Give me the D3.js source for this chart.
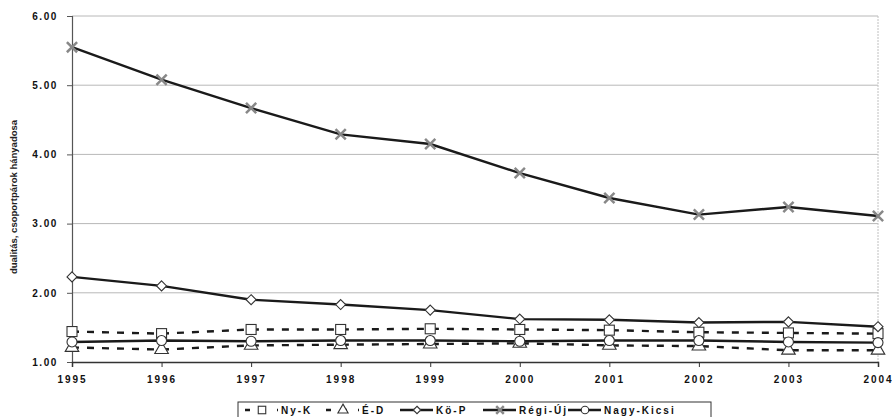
<!DOCTYPE html>
<html>
<head>
<meta charset="utf-8">
<script src="https://cdn.jsdelivr.net/npm/d3@7"></script>
<style>
  body { margin: 0; background: #fff; }
  text { font-family: "Liberation Sans", Arial, sans-serif; }
</style>
</head>
<body>
<div id="chart"></div>
<script>
// data
var years = [1995, 1996, 1997, 1998, 1999, 2000, 2001, 2002, 2003, 2004];
var nyK = [1.44, 1.41, 1.47, 1.47, 1.48, 1.47, 1.46, 1.43, 1.42, 1.41];
var eD = [1.21, 1.18, 1.24, 1.25, 1.26, 1.27, 1.24, 1.23, 1.17, 1.17];
var koP = [2.23, 2.10, 1.90, 1.83, 1.75, 1.62, 1.61, 1.57, 1.58, 1.51];
var regiUj = [5.55, 5.08, 4.67, 4.29, 4.15, 3.73, 3.37, 3.13, 3.24, 3.11];
var nagyKicsi = [1.29, 1.31, 1.30, 1.31, 1.31, 1.30, 1.31, 1.31, 1.29, 1.28];
var yTicks = [1, 2, 3, 4, 5, 6];
var yLabel = "dualitás, csoportpárok hányadosa";

var series = [
    { name: "Ny-K", values: nyK, dash: "7,8", marker: "square" },
    { name: "É-D", values: eD, dash: "7,8", marker: "triangle" },
    { name: "Kö-P", values: koP, dash: null, marker: "diamond" },
    { name: "Régi-Új", values: regiUj, dash: null, marker: "cross" },
    { name: "Nagy-Kicsi", values: nagyKicsi, dash: null, marker: "circle" }
];

var width = 895, height = 417;
var margin = { left: 72, right: 16, top: 16, bottom: 55 };

var svg = d3.select("#chart").append("svg")
    .attr("width", width)
    .attr("height", height);

var x = d3.scaleLinear()
    .domain([1995, 2004])
    .range([margin.left, width - margin.right - 1]);

var y = d3.scaleLinear()
    .domain([1, 6])
    .range([height - margin.bottom, margin.top]);

// gridlines
svg.append("g")
    .selectAll("line")
    .data(yTicks.slice(1))
    .enter()
    .append("line")
    .attr("x1", margin.left)
    .attr("x2", x(2004))
    .attr("y1", d => y(d))
    .attr("y2", d => y(d))
    .attr("stroke", "#b8b8b8")
    .attr("stroke-width", 1);

// right border, dotted like the scan
svg.append("line")
    .attr("x1", x(2004)).attr("x2", x(2004))
    .attr("y1", y(6)).attr("y2", y(1))
    .attr("stroke", "#c0c0c0")
    .attr("stroke-dasharray", "2,1");

// y axis
var yAxis = svg.append("g")
    .attr("transform", "translate(" + margin.left + ",0)")
    .call(d3.axisLeft(y).tickValues(yTicks).tickFormat(d3.format(".2f")).tickSize(5).tickPadding(9));
yAxis.select(".domain").attr("stroke", "#555").attr("stroke-width", 1.2);
yAxis.selectAll(".tick line").attr("stroke", "#555");
yAxis.selectAll("text")
    .attr("font-size", "10px")
    .attr("font-weight", "bold")
    .attr("letter-spacing", "1.6px")
    .attr("fill", "#111");

// x axis
var xAxis = svg.append("g")
    .attr("transform", "translate(0," + y(1) + ")")
    .call(d3.axisBottom(x).tickValues(years).tickFormat(d3.format("d")).tickSize(5).tickPadding(9));
xAxis.select(".domain").attr("stroke", "#333").attr("stroke-width", 1.5);
xAxis.selectAll(".tick line").attr("stroke", "#333");
xAxis.selectAll("text")
    .attr("font-size", "10px")
    .attr("font-weight", "bold")
    .attr("letter-spacing", "2px")
    .attr("fill", "#111");

// y label
svg.append("text")
    .attr("transform", "translate(17," + ((y(1) + y(6)) / 2 + 8) + ") rotate(-90)")
    .attr("text-anchor", "middle")
    .attr("font-size", "9.5px")
    .attr("font-weight", "bold")
    .attr("fill", "#222")
    .text(yLabel);

var line = d3.line()
    .x((d, i) => x(years[i]))
    .y(d => y(d));

function drawMarker(g, type, size) {
    var s = size || 1;
    if (type === "square") {
        g.append("rect").attr("x", -5 * s).attr("y", -5 * s).attr("width", 10 * s).attr("height", 10 * s)
            .attr("fill", "#fff").attr("stroke", "#333").attr("stroke-width", 1.1);
    } else if (type === "triangle") {
        g.append("path").attr("d", d3.symbol(d3.symbolTriangle, 80 * s * s))
            .attr("fill", "#fff").attr("stroke", "#333").attr("stroke-width", 1.1);
    } else if (type === "diamond") {
        g.append("path").attr("d", "M0," + (-5 * s) + "L" + (5 * s) + ",0L0," + (5 * s) + "L" + (-5 * s) + ",0Z")
            .attr("fill", "#fff").attr("stroke", "#333").attr("stroke-width", 1.1);
    } else if (type === "cross") {
        g.append("path").attr("d", d3.symbol(d3.symbolX, 70 * s * s))
            .attr("fill", "none").attr("stroke", "#888").attr("stroke-width", 2.5);
    } else {
        g.append("circle").attr("r", 5 * s)
            .attr("fill", "#fff").attr("stroke", "#333").attr("stroke-width", 1.1);
    }
}

// lines
series.forEach(function(s) {
    svg.append("path")
        .datum(s.values)
        .attr("d", line)
        .attr("fill", "none")
        .attr("stroke", "#1a1a1a")
        .attr("stroke-width", 2.4)
        .attr("stroke-dasharray", s.dash);
});

// markers
series.forEach(function(s) {
    svg.append("g")
        .selectAll("g")
        .data(s.values)
        .enter()
        .append("g")
        .attr("transform", (d, i) => "translate(" + x(years[i]) + "," + y(d) + ")")
        .each(function() { drawMarker(d3.select(this), s.marker); });
});

// legend
var legend = svg.append("g").attr("transform", "translate(238,402)");
legend.append("rect")
    .attr("x", 0).attr("y", 0)
    .attr("width", 473).attr("height", 20)
    .attr("fill", "#fff")
    .attr("stroke", "#333")
    .attr("stroke-width", 1);

var legendX = [7, 88, 162, 245, 330];
series.forEach(function(s, i) {
    var g = legend.append("g").attr("transform", "translate(" + legendX[i] + ",8)");
    g.append("line")
        .attr("x1", 0).attr("x2", 33)
        .attr("stroke", "#1a1a1a").attr("stroke-width", 2.4)
        .attr("stroke-dasharray", s.dash ? "5,11" : null);
    var m = g.append("g").attr("transform", "translate(17,0)");
    drawMarker(m, s.marker, 0.75);
    g.append("text")
        .attr("x", 36).attr("y", 4)
        .attr("font-size", "10px")
        .attr("font-weight", "bold")
        .attr("letter-spacing", "2px")
        .attr("fill", "#111")
        .text(s.name);
});
</script>
</body>
</html>
